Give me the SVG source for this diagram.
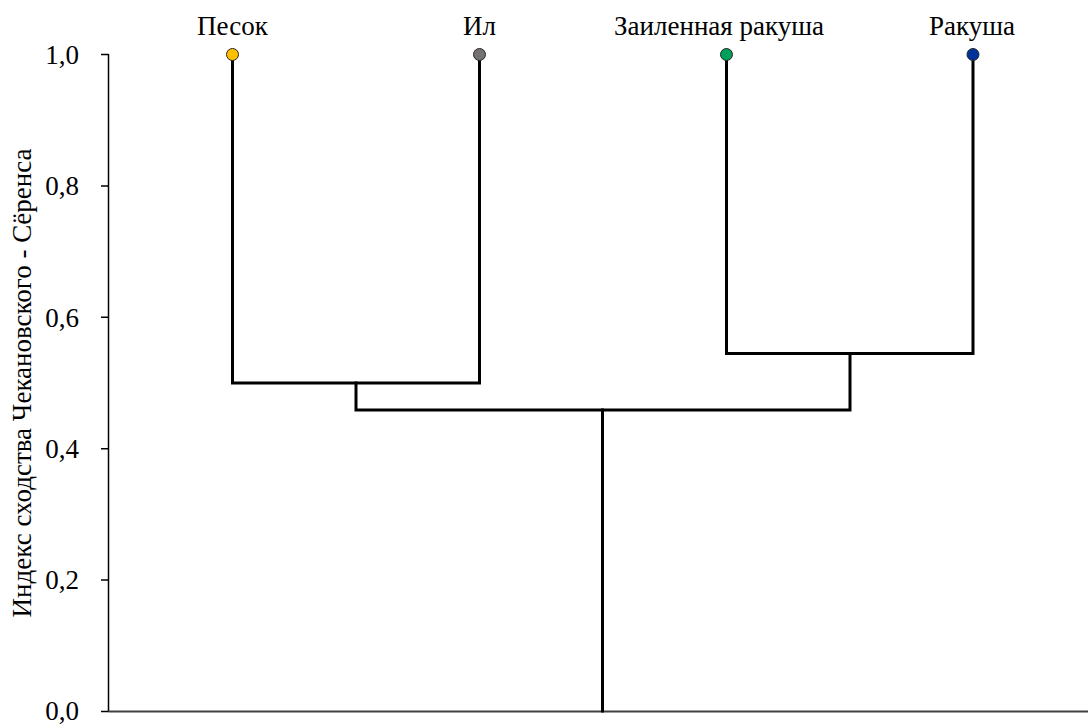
<svg xmlns="http://www.w3.org/2000/svg" width="1088" height="724" viewBox="0 0 1088 724">
<style>
text{font-family:'Liberation Serif','Times New Roman',serif;font-size:27px;fill:#000}
.tick{text-anchor:end}
.lbl{text-anchor:middle}
.br{fill:none;stroke:#000;stroke-width:3;stroke-linecap:square;stroke-linejoin:miter}
.ax{stroke:#000;stroke-width:1.5;fill:none}
.dot{stroke:#262626;stroke-width:1}
</style>
<rect width="1088" height="724" fill="#fff"/>
<g id="axes">
<line class="ax" x1="108.5" y1="54" x2="108.5" y2="711.5"/>
<line x1="108.5" y1="711.5" x2="1088" y2="711.5" stroke="#404040" stroke-width="2"/>
<path class="ax" d="M101 54.5H108.5M101 185.9H108.5M101 317.3H108.5M101 448.7H108.5M101 580.1H108.5M101 711.5H108.5"/>
<text class="tick" x="79" y="64">1,0</text>
<text class="tick" x="79" y="195">0,8</text>
<text class="tick" x="79" y="327">0,6</text>
<text class="tick" x="79" y="458">0,4</text>
<text class="tick" x="79" y="589">0,2</text>
<text class="tick" x="79" y="720">0,0</text>
<text class="lbl" transform="translate(30.5,383) rotate(-90)">Индекс сходства Чекановского - Сёренса</text>
</g>
<g id="connectors">
<path class="br" d="M232.5 60V383H479.5V60"/>
<path class="br" d="M726.5 60V353.5H973V60"/>
<path class="br" d="M356 383V410H850V353.5"/>
<path class="br" d="M602.5 410V711"/>
</g>
<g id="node-pesok">
<circle class="dot" cx="232.5" cy="54.5" r="6" fill="#FFC000"/>
<text class="lbl" x="232.5" y="35">Песок</text>
</g>
<g id="node-il">
<circle class="dot" cx="479.5" cy="54.5" r="6" fill="#767171"/>
<text class="lbl" x="479.5" y="35">Ил</text>
</g>
<g id="node-zailennaya">
<circle class="dot" cx="726.5" cy="54.5" r="6" fill="#00A05A"/>
<text class="lbl" x="719" y="35">Заиленная ракуша</text>
</g>
<g id="node-rakusha">
<circle class="dot" cx="973" cy="54.5" r="6" fill="#00339A"/>
<text class="lbl" x="972" y="35">Ракуша</text>
</g>
</svg>
